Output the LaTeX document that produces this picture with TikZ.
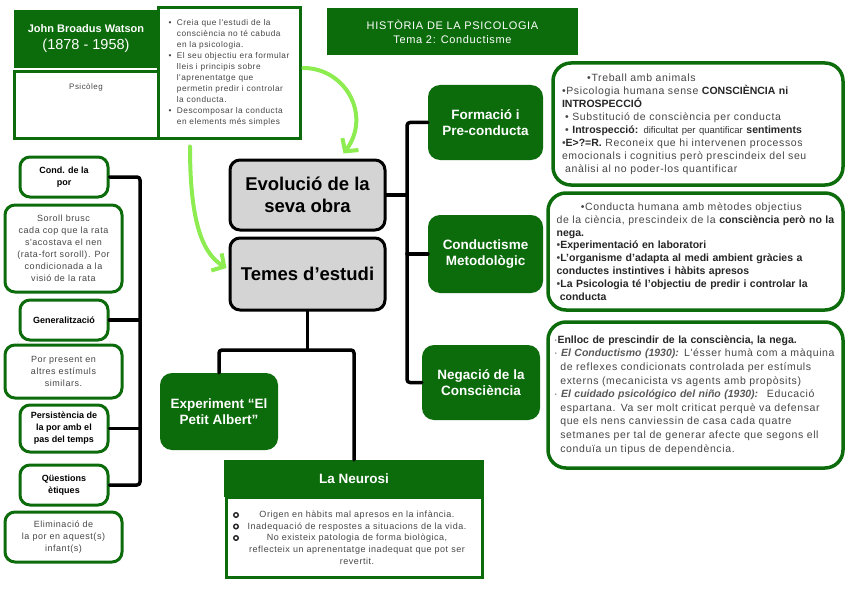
\documentclass[tikz,border=0pt]{standalone}
\usepackage{fontspec}
\setmainfont{Liberation Sans}
\newfontfamily\lsp[LetterSpace=6]{Liberation Sans}
\usetikzlibrary{arrows.meta}
\definecolor{G}{RGB}{12,108,12}
\definecolor{LG}{RGB}{140,236,80}
\definecolor{txt}{RGB}{70,70,70}
\definecolor{cg}{RGB}{212,212,212}
\newcommand\bt[1]{{\normalfont\bfseries\color{black!85}#1}}
\newcommand\bi[1]{{\normalfont\bfseries\itshape\color{black!65}#1}}
\newcommand\fs[2]{\fontsize{#1}{#2}\selectfont}
\newcommand\ind[1][0.3em]{\hspace*{#1}}
\tikzset{
 gbox/.style={fill=G, text=white, font=\bfseries\fs{13.5}{16}, align=center, rounded corners=12pt, inner sep=0pt},
 cbox/.style={fill=cg, draw=black, line width=3pt, rounded corners=10pt, font=\bfseries\fs{18.5}{22}, align=center, minimum width=155pt, inner sep=0pt},
 rbox/.style={draw=G, line width=3.5pt, fill=white, rounded corners=18pt, align=left, text=txt, inner ysep=0pt},
 lbox/.style={draw=G, line width=3pt, fill=white, rounded corners=10pt, align=center, inner sep=0pt},
 lhead/.style={lbox, font=\bfseries\fs{9}{12}, minimum width=88pt},
 ltext/.style={lbox, font=\lsp\fs{9}{12}, text=txt, minimum width=117pt},
 link/.style={line width=3.5pt, line cap=round, line join=round, rounded corners=3pt},
 garrow/.style={LG, line width=4pt, line cap=round, -{Straight Barb[length=9pt,width=20pt]}},
}
\begin{document}
\begin{tikzpicture}[x=1pt,y=-1pt]
\fill[white] (0,0) rectangle (848,599);
\useasboundingbox (0,0) rectangle (848,599);

% header area
\node (wat) [fill=G, text=white, align=center, minimum width=144pt, minimum height=58pt, inner sep=0pt,
  font=\fs{11}{17}] at (86,39)
  {{\bfseries John Broadus Watson}\\{\fs{14.5}{17}(1878 - 1958)}};
\node (psi) [draw=G, line width=3pt, fill=white, minimum width=144pt, minimum height=66pt,
  label={[anchor=north, yshift=-10pt, font=\lsp\fs{8}{10}, text=txt]north:Psicòleg}] at (86,105) {};
\node (bul) [draw=G, line width=3pt, fill=white, minimum width=142pt, minimum height=130pt, align=left,
  font=\lsp\fs{8.3}{11}, text=txt, inner sep=0pt] at (229,73)
  {\makebox[1em][l]{•}Creia que l'estudi de la\\
   \hspace{1em}consciència no té cabuda\\
   \hspace{1em}en la psicologia.\\
   \makebox[1em][l]{•}El seu objectiu era formular\\
   \hspace{1em}lleis i principis sobre\\
   \hspace{1em}l'aprenentatge que\\
   \hspace{1em}permetin predir i controlar\\
   \hspace{1em}la conducta.\\
   \makebox[1em][l]{•}Descomposar la conducta\\
   \hspace{1em}en elements més simples};
\node (tit) [fill=G, text=white, align=center, minimum width=251pt, minimum height=47pt, inner sep=0pt,
  font=\lsp\fs{11}{14}] at (452.5,31.5) {HISTÒRIA DE LA PSICOLOGIA\\Tema 2: Conductisme};

% central nodes
\node (evo) [cbox, minimum height=70pt] at (307.5,195) {Evolució de la\\seva obra};
\node (tem) [cbox, minimum height=72pt] at (307.5,274) {Temes d'estudi};

% right green nodes
\node (for) [gbox, minimum width=115pt, minimum height=75pt] at (485.5,122.5) {Formació i\\Pre-conducta};
\node (con) [gbox, minimum width=115pt, minimum height=78pt] at (485.5,254) {Conductisme\\Metodològic};
\node (neg) [gbox, minimum width=118pt, minimum height=75pt] at (481,382.5) {Negació de la\\Consciència};

% right text boxes
\node (r1) [rbox, text width=272pt, inner xsep=9pt, minimum height=122pt, font=\lsp\fs{10.5}{13}] at (698,124)
  {\ind[2.4em]•Treball amb animals\\
   •Psicologia humana sense \bt{CONSCIÈNCIA ni}\\
   \bt{INTROSPECCIÓ}\\
   \ind • Substitució de consciència per conducta\\
   \ind • \bt{Introspecció:} {\normalfont\fs{9.5}{13}\color{black!80}dificultat per quantificar} \bt{sentiments}\\
   •\bt{E>?=R.} Reconeix que hi intervenen processos\\
   emocionals i cognitius però prescindeix del seu\\
   \ind anàlisi al no poder-los quantificar};
\node (r2) [rbox, text width=284pt, inner xsep=5.5pt, minimum height=117pt, font=\lsp\fs{10.5}{12.8}] at (695.5,251.5)
  {\ind[2.6em]•Conducta humana amb mètodes objectius\\
   \ind[0.3em]de la ciència, prescindeix de la \bt{consciència però no la}\\
   \ind[0.3em]\bt{nega.}\\
   \ind[0.3em]•\bt{Experimentació en laboratori}\\
   \ind[0.3em]•\bt{L'organisme d'adapta al medi ambient gràcies a}\\
   \ind[0.3em]\bt{conductes instintives i hàbits apresos}\\
   \ind[0.3em]•\bt{La Psicologia té l'objectiu de predir i controlar la}\\
   \ind[0.6em]\bt{conducta}};
\node (r3) [rbox, text width=283pt, inner xsep=6pt, minimum height=146pt, font=\lsp\fs{10.5}{13.6}] at (695.5,395)
  {·\bt{Enlloc de prescindir de la consciència, la nega.}\\
   · \bi{El Conductismo (1930):} L'ésser humà com a màquina\\
   \ind[0.6em]de reflexes condicionats controlada per estímuls\\
   \ind[0.6em]externs (mecanicista vs agents amb propòsits)\\
   · \bi{El cuidado psicológico del niño (1930):} \ Educació\\
   \ind[0.6em]espartana. Va ser molt criticat perquè va defensar\\
   \ind[0.6em]que els nens canviessin de casa cada quatre\\
   \ind[0.6em]setmanes per tal de generar afecte que segons ell\\
   \ind[0.6em]conduïa un tipus de dependència.};

% lower centre
\node (exp) [gbox, minimum width=118pt, minimum height=77pt] at (219,411.5) {Experiment “El\\Petit Albert”};
\node (neu) [fill=G, text=white, font=\bfseries\fs{13.5}{16}, minimum width=260pt, minimum height=37pt, inner sep=0pt] at (354,478.5) {La Neurosi};
\node (neb) [draw=G, line width=3pt, fill=white, minimum width=256pt, minimum height=80pt, inner sep=0pt,
  align=center, font=\lsp\fs{9}{11.7}, text=txt] at (354,537.5)
  {\hspace{6pt}Origen en hàbits mal apresos en la infància.\\
   \hspace{6pt}Inadequació de respostes a situacions de la vida.\\
   \hspace{6pt}No existeix patologia de forma biològica,\\
   \hspace{6pt}reflecteix un aprenentatge inadequat que pot ser\\
   \hspace{6pt}revertit.};
\foreach \yy in {515,526.5,538} \draw[line width=1.4pt, black!85] (236,\yy) circle (2.3pt);

% left column
\node (c1) [lhead, minimum height=40pt] at (64,177) {Cond. de la\\por};
\node (s1) [ltext, minimum height=87pt] at (63.5,248.5) {Soroll brusc\\cada cop que la rata\\s'acostava el nen\\(rata-fort soroll). Por\\condicionada a la\\visió de la rata};
\node (c2) [lhead, minimum height=40pt] at (64,320) {Generalització};
\node (s2) [ltext, minimum height=53pt] at (63.5,371.5) {Por present en\\altres estímuls\\similars.};
\node (c3) [lhead, minimum height=47pt] at (64,428.5) {Persistència de\\la por amb el\\pas del temps};
\node (c4) [lhead, minimum height=40pt] at (64,485) {Qüestions\\ètiques};
\node (s3) [ltext, minimum height=50pt] at (63.5,537) {Eliminació de\\la por en aquest(s)\\infant(s)};

% connectors right
\coordinate (rs) at (407,195);
\draw[link] (evo.east) -- (rs);
\draw[link] (for.west) -- (for.west -| rs) -- (neg.west -| rs) -- (neg.west);
\draw[link] (con.west) -- (con.west -| rs);
% connectors bottom
\coordinate (tb) at (307.5,350);
\draw[link] (tem.south) -- (tb);
\draw[link] (exp.north) -- (exp.north |- tb) -- (neu.north |- tb) -- (neu.north);
% connectors left
\coordinate (ls) at (140,177);
\draw[link] (c1.east) -- (ls) -- (c4.east -| ls) -- (c4.east);
\draw[link] (c2.east) -- (c2.east -| ls);
\draw[link] (c3.east) -- (c3.east -| ls);

% green arrows
\coordinate (a1) at ([xshift=-39pt,yshift=-7pt]bul.south);
\coordinate (a2) at ([xshift=2pt,yshift=5pt]bul.east);
\draw[garrow] (a1) .. controls (190,215) and (200,252) .. ([xshift=-2pt,yshift=6pt]tem.west);
\draw[garrow] (a2) .. controls (345,68) and (372,115) .. ([xshift=36pt,yshift=5pt]evo.north);
\end{tikzpicture}
\end{document}
